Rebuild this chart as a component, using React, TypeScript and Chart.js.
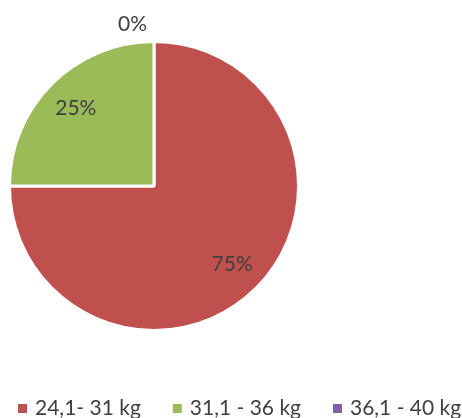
import React, { useEffect, useRef } from "react";
import { Chart, registerables } from "chart.js";

Chart.register(...registerables);

const categories = ["24,1- 31 kg", "31,1 - 36 kg", "36,1 - 40 kg"];
const values = [75, 25, 0];
const colors = ["#C0504D", "#9BBB59", "#8064A2"];
const FONT = "Lato, 'Liberation Sans', sans-serif";
const TEXT = "#404040";

const labelPlugin = {
  id: "pieLabels",
  afterDatasetsDraw(chart: any) {
    const ctx = chart.ctx;
    const meta = chart.getDatasetMeta(0);
    const total = values.reduce((a, b) => a + b, 0);
    ctx.save();
    ctx.font = `21px ${FONT}`;
    ctx.fillStyle = TEXT;
    ctx.textBaseline = "middle";
    meta.data.forEach((arc: any, i: number) => {
      const { x, y, startAngle, endAngle, outerRadius } = arc.getProps(
        ["x", "y", "startAngle", "endAngle", "outerRadius"],
        true
      );
      const pct = Math.round((values[i] / total) * 100) + "%";
      const mid = (startAngle + endAngle) / 2;
      if (values[i] === 0) {
        const r = outerRadius + 17;
        ctx.textAlign = "right";
        ctx.fillText(pct, x + Math.cos(mid) * r - 7, y + Math.sin(mid) * r);
      } else {
        const r = outerRadius * 0.765;
        ctx.textAlign = "center";
        ctx.fillText(pct, x + Math.cos(mid) * r, y + Math.sin(mid) * r);
      }
    });
    ctx.restore();
  },
};

const legendPlugin = {
  id: "bottomLegend",
  afterDraw(chart: any) {
    const ctx = chart.ctx;
    ctx.save();
    ctx.font = `21px ${FONT}`;
    ctx.textBaseline = "alphabetic";
    ctx.textAlign = "left";
    let x = 18;
    const baseY = 415;
    categories.forEach((c, i) => {
      ctx.fillStyle = colors[i];
      ctx.fillRect(x, 404, 9, 9);
      ctx.fillStyle = TEXT;
      ctx.fillText(c, x + 17, baseY);
      x += 17 + ctx.measureText(c).width + 32;
    });
    ctx.restore();
  },
};

export default function App() {
  const ref = useRef<HTMLCanvasElement | null>(null);
  useEffect(() => {
    if (!ref.current) return;
    const chart = new Chart(ref.current, {
      type: "pie",
      data: {
        labels: categories,
        datasets: [
          {
            data: values,
            backgroundColor: colors,
            borderColor: "#FFFFFF",
            borderWidth: 3,
          },
        ],
      },
      options: {
        responsive: false,
        animation: false,
        layout: { padding: { left: 8, top: 40, right: 162, bottom: 86 } },
        plugins: {
          legend: { display: false },
          tooltip: { enabled: false },
        },
      },
      plugins: [labelPlugin, legendPlugin],
    });
    return () => chart.destroy();
  }, []);
  return (
    <div style={{ position: "absolute", left: 0, top: 0, width: 462, height: 418, background: "#fff" }}>
      <canvas ref={ref} width={462} height={418} style={{ width: 462, height: 418, display: "block" }} />
    </div>
  );
}
